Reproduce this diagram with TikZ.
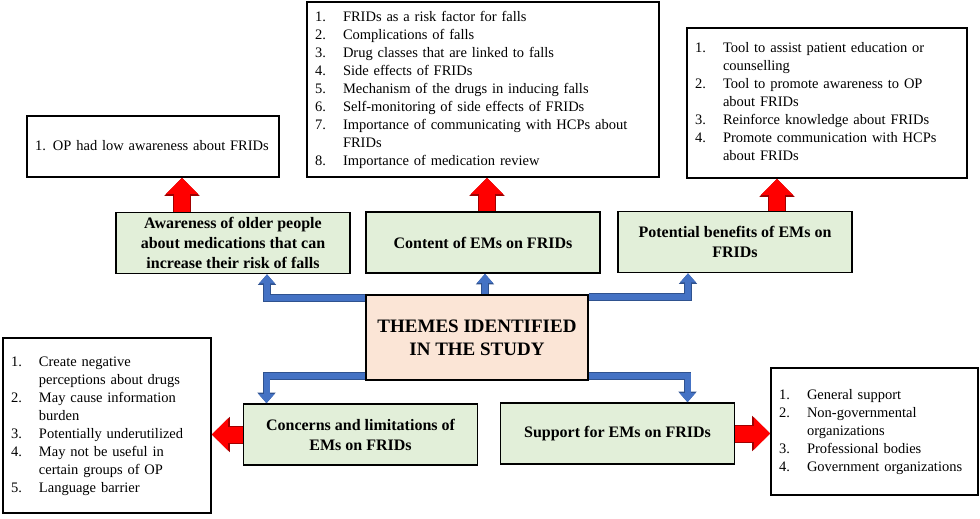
\documentclass[tikz,border=0pt]{standalone}
\usepackage{fontspec}
\setmainfont{Liberation Serif}
\usetikzlibrary{arrows.meta}
\definecolor{themefill}{HTML}{FBE5D6}
\definecolor{topicfill}{HTML}{E2EFD9}
\definecolor{arrowblue}{HTML}{4472C4}
\definecolor{blueedge}{HTML}{2F528F}
\definecolor{rededge}{HTML}{A00000}
\newcommand{\numlist}[2][28pt]{\begin{tabular}{@{}p{#1}@{}l@{}}#2\end{tabular}}

\begin{document}
\begin{tikzpicture}[x=1pt,y=-1pt,
  listbox/.style={draw,line width=1.6pt,fill=white,inner xsep=8pt,align=left,font=\fontsize{14.5}{18}\selectfont},
  topicbox/.style={draw,line width=1.6pt,fill=topicfill,align=center,minimum width=234pt,minimum height=61pt,font=\fontsize{16}{20}\selectfont\bfseries},
  redarrow/.style={red,line width=16pt,-{Triangle[width=31pt,length=16pt]},
     preaction={draw=rededge,line width=18pt,-{Triangle[width=34pt,length=18pt]}}},
  bluearrow/.style={arrowblue,line width=6pt,-{Triangle[width=15pt,length=9pt]},
     preaction={draw=blueedge,line width=7.6pt,-{Triangle[width=17.5pt,length=10.5pt]}}}]
     \useasboundingbox (0,0) rectangle (980,519);
     \node[listbox,text width=236pt,minimum height=61pt] (awarelist) at (153,146.5)
        {\numlist[18pt]{1. & OP had low awareness about FRIDs}};
     \node[topicbox] (aware) at (233,243)
        {Awareness of older people\\about medications that can\\increase their risk of falls};
     \node[listbox,text width=336pt,minimum height=175pt] (contlist) at (483,89.5)
        {\numlist{1. & FRIDs as a risk factor for falls\\
                  2. & Complications of falls\\
                  3. & Drug classes that are linked to falls\\
                  4. & Side effects of FRIDs\\
                  5. & Mechanism of the drugs in inducing falls\\
                  6. & Self-monitoring of side effects of FRIDs\\
                  7. & Importance of communicating with HCPs about\\
                     & FRIDs\\
                  8. & Importance of medication review}};
     \node[topicbox] (content) at (483,242.5) {Content of EMs on FRIDs};
     \node[listbox,text width=264pt,minimum height=150pt] (potlist) at (827,103)
        {\numlist{1. & Tool to assist patient education or\\
                     & counselling\\
                  2. & Tool to promote awareness to OP\\
                     & about FRIDs\\
                  3. & Reinforce knowledge about FRIDs\\
                  4. & Promote communication with HCPs\\
                     & about FRIDs}};
     \node[topicbox] (potential) at (735,242) {Potential benefits of EMs on\\FRIDs};
     \node[draw,line width=1.6pt,fill=themefill,minimum width=222pt,minimum height=85pt,
        align=center,font=\fontsize{19}{23}\selectfont\bfseries] (theme) at (477,337.5)
        {THEMES IDENTIFIED\\IN THE STUDY};
     \node[topicbox] (concern) at (360.5,434.5) {Concerns and limitations of\\EMs on FRIDs};
     \node[listbox,text width=192pt,minimum height=175pt] (conclist) at (107,425.5)
        {\numlist{1. & Create negative\\
                     & perceptions about drugs\\
                  2. & May cause information\\
                     & burden\\
                  3. & Potentially underutilized\\
                  4. & May not be useful in\\
                     & certain groups of OP\\
                  5. & Language barrier}};
     \node[topicbox] (support) at (617.5,433.5) {Support for EMs on FRIDs};
     \node[listbox,text width=191pt,minimum height=127pt] (suplist) at (874.5,431.5)
        {\numlist{1. & General support\\
                  2. & Non-governmental\\
                     & organizations\\
                  3. & Professional bodies\\
                  4. & Government organizations}};
     \draw[bluearrow] ([yshift=-4pt]theme.north west) -| ([xshift=34pt]aware.south);
     \draw[bluearrow] ([xshift=8pt]theme.north) -- ([xshift=8pt]theme.north |- content.south);
     \draw[bluearrow] ([yshift=-2.5pt]theme.north east) -| ([xshift=-47pt]potential.south);
     \draw[bluearrow] ([yshift=5pt]theme.south west) -| ([xshift=-94pt]concern.north);
     \draw[bluearrow] ([yshift=5pt]theme.south east) -| ([xshift=70pt]support.north);
     \draw[redarrow] ([xshift=-51pt]aware.north) -- ([xshift=-51pt]aware.north |- awarelist.south);
     \draw[redarrow] ([xshift=4pt]content.north) -- ([xshift=4pt]content.north |- contlist.south);
     \draw[redarrow] ([xshift=42pt]potential.north) -- ([xshift=42pt]potential.north |- potlist.south);
     \draw[redarrow] (concern.west) -- (concern.west -| conclist.east);
     \draw[redarrow] (support.east) -- (support.east -| suplist.west);
\end{tikzpicture}
\end{document}
